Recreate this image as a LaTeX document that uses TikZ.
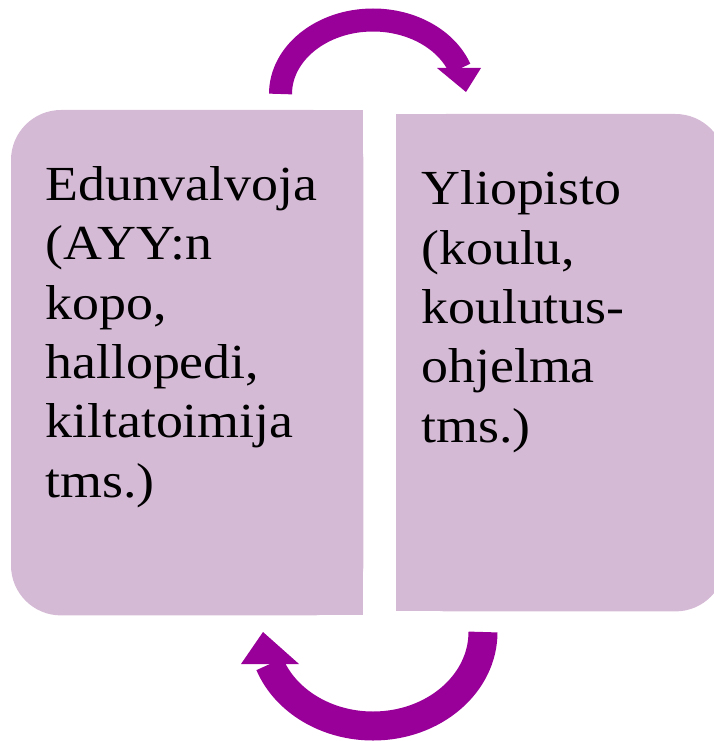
\documentclass[tikz,border=0pt]{standalone}
\usepackage{fontspec}
\setmainfont{Liberation Serif}[FakeStretch=1.1]
\usetikzlibrary{positioning}
\definecolor{boxfill}{HTML}{D5BAD5}
\definecolor{cyclepurple}{HTML}{990099}

\begin{document}
\begin{tikzpicture}[x=1pt, y=-1pt, every node/.style={font=\fontsize{49}{59.3}\selectfont}]
	\useasboundingbox (0,0) rectangle (713,741);
	\node (leftbox) [rectangle, minimum width=352, minimum height=505, inner sep=0, anchor=north west] at (11,110) {};
	\node (rightbox) [rectangle, minimum width=329, minimum height=497, inner sep=0, anchor=north west] at (396,114) {};
	
	% Boxes
	\fill [boxfill, rounded corners=50] (leftbox.north west) rectangle (leftbox.south east);
	\fill [boxfill] (leftbox.north) rectangle (leftbox.south east);
	\fill [boxfill, rounded corners=50] (rightbox.north west) rectangle (rightbox.south east);
	\fill [boxfill] (rightbox.north west) rectangle (rightbox.south);
	
	\node (edunvalvoja) [align=left, anchor=base west, inner sep=0] at (45,497) {Edunvalvoja\\(AYY:n\\kopo,\\hallopedi,\\kiltatoimija\\tms.)};
	\node (yliopisto) [align=left, anchor=base west, inner sep=0] at (421,442) {Yliopisto\\(koulu,\\koulutus-\\ohjelma\\tms.)};
	
	% Arrows
	\coordinate (topfrom) at (280.5,94);
	\coordinate (bottomfrom) at (483,632);
	\draw [cyclepurple, line width=23] (topfrom) arc[start angle=180, end angle=340, x radius=92.5, y radius=74];
	\fill [cyclepurple] (437,68) -- (466,92) -- (481,68) -- cycle;
	\draw [cyclepurple, line width=29] (bottomfrom) arc[start angle=0, end angle=160, x radius=110, y radius=94];
	\fill [cyclepurple] (241,664) -- (263,632) -- (299,664) -- cycle;
\end{tikzpicture}
\end{document}
